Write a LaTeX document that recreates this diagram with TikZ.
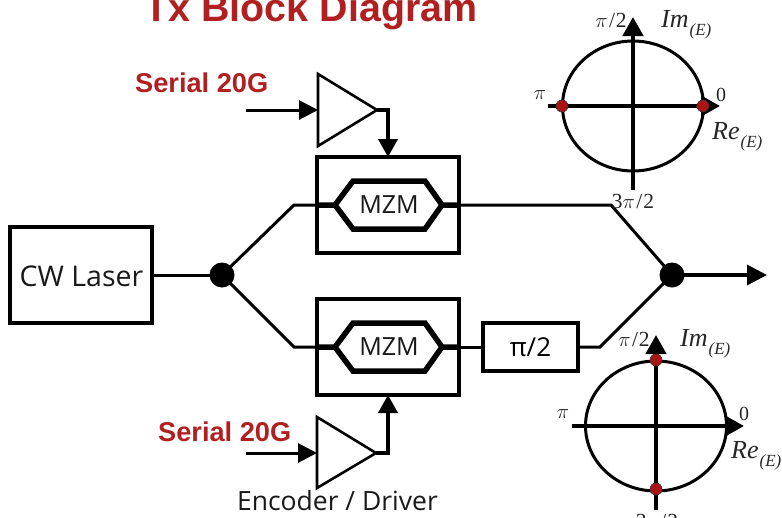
\documentclass[tikz,border=0pt]{standalone}
\usepackage{fontspec}
\setmainfont{Liberation Serif}
\newfontfamily\arialf{Liberation Sans}
\newfontfamily\labelf{Open Sans}
\usetikzlibrary{arrows.meta,shapes.geometric}
\definecolor{tred}{RGB}{176,32,32}
\definecolor{dotred}{RGB}{170,20,20}
\tikzset{
  px/.style={x=1pt,y=-1pt},
  box/.style={draw=black,line width=4pt,fill=none,inner sep=0pt,outer sep=0pt,anchor=north west},
  thinw/.style={draw=black,line width=3pt},
  thickw/.style={draw=black,line width=5.5pt,line join=miter},
  amp/.style={draw=black,line width=2.6pt,line join=miter},
  sig/.style={draw=black,line width=3pt,-{Triangle[length=19pt,width=19pt]}},
  axis/.style={draw=black,line width=4.4pt,-{Triangle[length=19pt,width=20pt]}},
  circ/.style={draw=black,line width=3pt,fill=none,ellipse,inner sep=0pt,outer sep=0pt},
  junction/.style={circle,fill=black,minimum size=25pt,inner sep=0pt},
  reddot/.style={circle,fill=dotred,draw=black!80,line width=0.6pt,minimum size=12pt,inner sep=0pt},
  serial/.style={font=\arialf\bfseries\fontsize{27.2}{27}\selectfont,text=tred,inner sep=0pt},
  lab/.style={font=\labelf\fontsize{25}{25}\selectfont,text=black!90,inner sep=0pt},
  ph/.style={font=\fontsize{21.5}{22}\selectfont,text=black!85,inner sep=0pt},
  pol/.style={font=\itshape\fontsize{26}{26}\selectfont,text=black!85,inner sep=0pt},
}
\newcommand{\piover}{$\pi$\kern1.5pt/\kern1pt2}
\newcommand{\subE}{\raisebox{-8pt}{\fontsize{17}{17}\selectfont\kern1pt(E)}}
\begin{document}
\begin{tikzpicture}[px]
\path[use as bounding box] (0,0) rectangle (782,517);
\clip (0,0) rectangle (782,517);
% title
\node[font=\arialf\bfseries\fontsize{39.4}{39}\selectfont,text=tred,inner sep=0pt,anchor=base] (title) at (311,21) {Tx Block Diagram};
% boxes
\node[box,minimum width=142pt,minimum height=96pt] (laser) at (10,227) {};
\node[lab,font=\labelf\fontsize{28.5}{28}\selectfont] (lasertxt) at (81.5,276) {CW Laser};
\node[box,minimum width=142pt,minimum height=96pt] (mzmA) at (317,157) {};
\node[box,minimum width=142pt,minimum height=96pt] (mzmB) at (317,299) {};
\node[box,minimum width=95pt,minimum height=48pt] (shift) at (483,323) {};
\node[font=\labelf\fontsize{26}{26}\selectfont,inner sep=0pt] (shifttxt) at (530.5,347) {π/2};
% junctions
\node[junction] (split) at (222,275) {};
\node[junction] (merge) at (672,275) {};
\coordinate (upA) at (294,205);
\coordinate (loA) at (294,347);
\coordinate (upB) at (611,205);
\coordinate (loB) at (600,347);
\coordinate (out) at (767,275);
% waveguides
\draw[thinw] (laser.east) -- (split.center);
\draw[thinw,line join=miter] (split.center) -- (upA) -- (mzmA.west);
\draw[thinw,line join=miter] (split.center) -- (loA) -- (mzmB.west);
\draw[thinw,line join=miter] (mzmA.east) -- (upB) -- (merge.center);
\draw[thinw] (mzmB.east) -- (shift.west);
\draw[thinw,line join=miter] (shift.east) -- (loB) -- (merge.center);
\draw[draw=black,line width=3.4pt,-{Triangle[length=20pt,width=20pt]}] (merge.center) -- (out);
% modulators
\foreach \n/\y/\b in {A/205/mzmA,B/347/mzmB}{
  \draw[thickw] (\b.west) -- (335,\y) -- (353,\y-24) -- (425,\y-24) -- (442,\y) -- (425,\y+24) -- (353,\y+24) -- (335,\y) (442,\y) -- (\b.east);
  \node[lab] (mzmtxt\n) at (389,\y) {MZM};
}
% amps
\coordinate (inA) at (246,110);
\coordinate (inB) at (246,453);
\node[inner sep=0pt,outer sep=0pt,minimum size=0pt] (ampAin) at (318,110) {};
\node[inner sep=0pt,outer sep=0pt,minimum size=0pt] (ampAout) at (377,110) {};
\node[inner sep=0pt,outer sep=0pt,minimum size=0pt] (ampBin) at (317,453) {};
\node[inner sep=0pt,outer sep=0pt,minimum size=0pt] (ampBout) at (376,453) {};
\draw[amp] (318,74) -- (377,110) -- (318,146) -- cycle;
\draw[amp] (317,417) -- (376,453) -- (317,488) -- cycle;
\draw[sig] (inA) -- (ampAin);
\draw[sig] (inB) -- (ampBin);
\draw[sig,line width=4pt,-{Triangle[length=18pt,width=19pt]}] (ampAout) -| (mzmA.north);
\draw[sig,line width=4pt,-{Triangle[length=18pt,width=19pt]}] (ampBout) -| (mzmB.south);
\node[serial,anchor=base west] (serA) at (135,92) {Serial 20G};
\node[serial,anchor=base west] (serB) at (158,441) {Serial 20G};
\node[lab,font=\labelf\fontsize{26.5}{26}\selectfont,anchor=base] (enc) at (337.5,510) {Encoder / Driver};
% upper phasor
\node[circ,minimum width=141pt,minimum height=130pt] (cA) at (633,106) {};
\coordinate (axAl) at (548,106);
\coordinate (axAr) at (720,106);
\coordinate (axAb) at (633,190);
\coordinate (axAt) at (633,17);
\draw[axis] (axAl) -- (axAr);
\draw[axis] (axAb) -- (axAt);
\node[reddot] (dA1) at (562,106) {};
\node[reddot] (dA2) at (703,106) {};
\node[ph] (tA1) at (611,20) {\piover};
\node[ph] (tA2) at (540,95) {$\pi$};
\node[ph,font=\fontsize{20}{20}\selectfont] (tA3) at (721,95) {0};
\node[ph] (tA4) at (633,201) {3\piover};
\node[pol,anchor=base west] (tA5) at (661,27) {Im\subE};
\node[pol,anchor=base west] (tA6) at (712,139) {Re\subE};
% lower phasor
\node[circ,minimum width=141pt,minimum height=130pt] (cB) at (656,426) {};
\coordinate (axBl) at (572,426);
\coordinate (axBr) at (744,426);
\coordinate (axBb) at (656,510);
\coordinate (axBt) at (656,335);
\draw[axis] (axBl) -- (axBr);
\draw[axis] (axBb) -- (axBt);
\node[reddot] (dB1) at (656,360) {};
\node[reddot] (dB2) at (656,489) {};
\node[ph] (tB1) at (634,339) {\piover};
\node[ph] (tB2) at (563,414) {$\pi$};
\node[ph,font=\fontsize{20}{20}\selectfont] (tB3) at (744,414) {0};
\node[ph] (tB4) at (657,521) {3\piover};
\node[pol,anchor=base west] (tB5) at (680,346) {Im\subE};
\node[pol,anchor=base west] (tB6) at (731,458) {Re\subE};
\end{tikzpicture}
\end{document}
